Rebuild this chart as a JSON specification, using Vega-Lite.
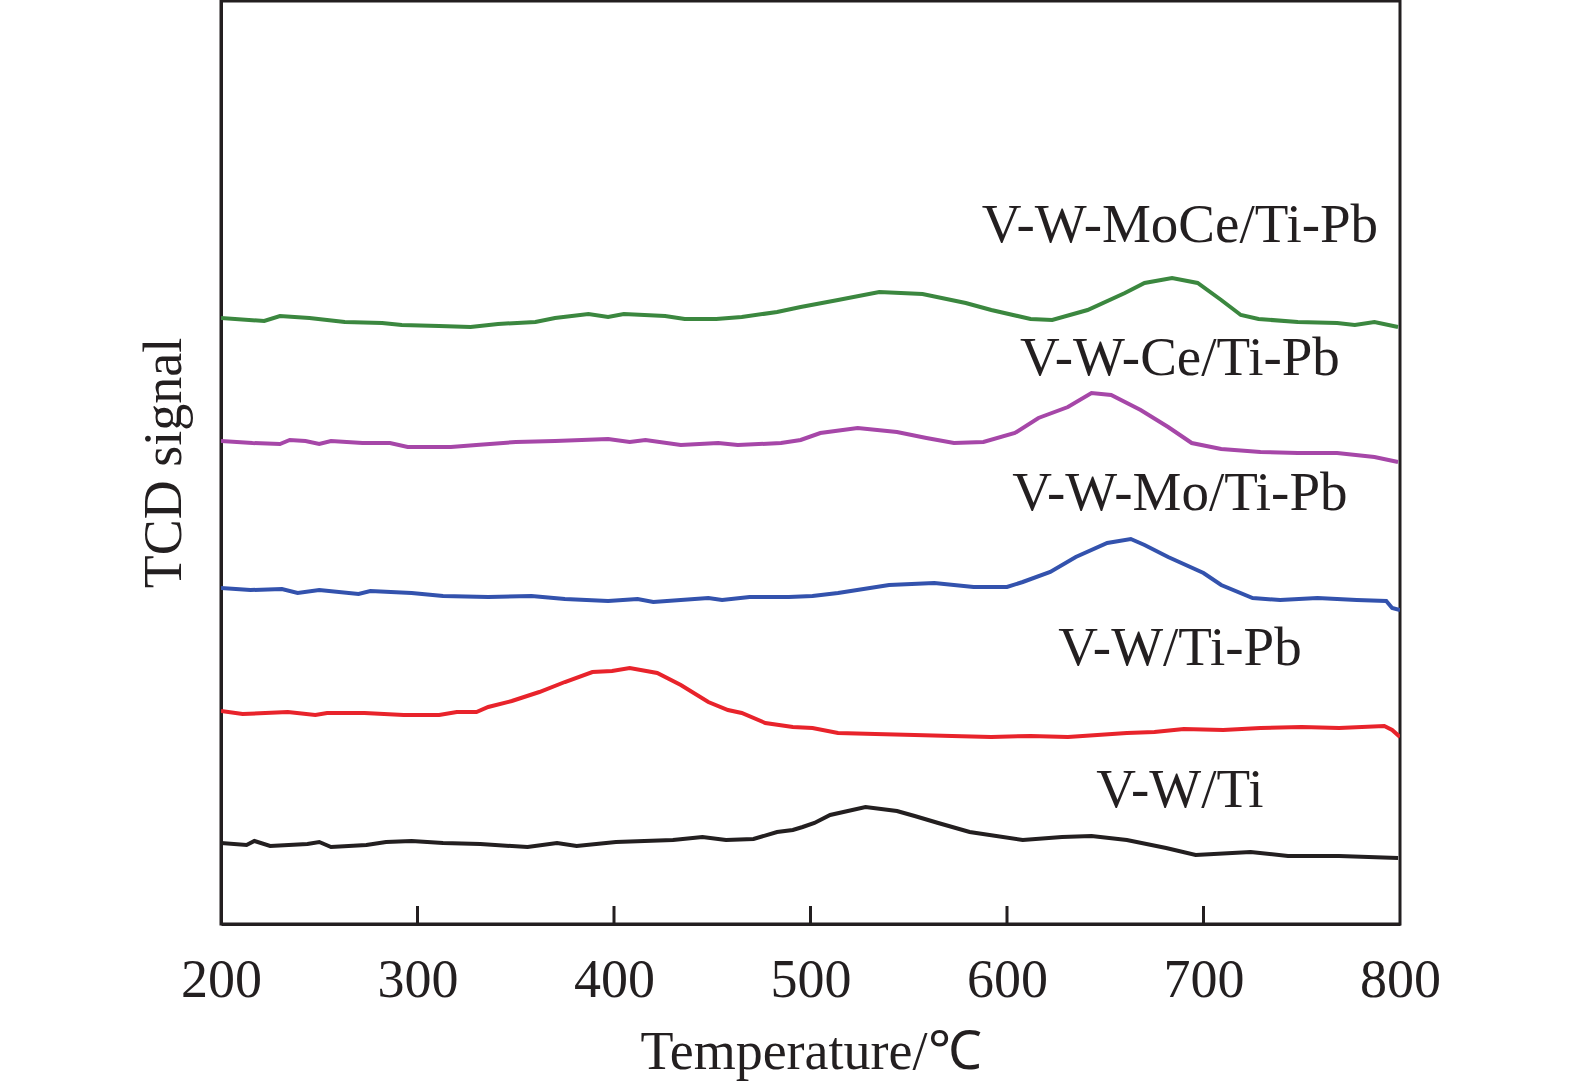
{
  "$schema": "https://vega.github.io/schema/vega-lite/v6.json",
  "width": 1179,
  "height": 923,
  "autosize": "none",
  "padding": {"left": 221, "top": 1, "right": 175, "bottom": 158},
  "config": {
    "font": "Liberation Serif",
    "view": {"stroke": "#231f20", "strokeWidth": 3},
    "axis": {"grid": false, "domainColor": "#231f20", "domainWidth": 3, "tickColor": "#231f20", "labelColor": "#231f20", "titleColor": "#231f20", "labelFont": "Liberation Serif", "titleFont": "Liberation Serif", "labelFontSize": 54, "titleFontSize": 54, "titleFontWeight": "normal"}
  },
  "datasets": {
    "curves": [
      {"s": "V-W/Ti", "t": 200, "v": 81}, {"s": "V-W/Ti", "t": 213, "v": 79}, {"s": "V-W/Ti", "t": 217, "v": 83}, {"s": "V-W/Ti", "t": 225, "v": 78},
      {"s": "V-W/Ti", "t": 244, "v": 80}, {"s": "V-W/Ti", "t": 250, "v": 82}, {"s": "V-W/Ti", "t": 256, "v": 77}, {"s": "V-W/Ti", "t": 274, "v": 79},
      {"s": "V-W/Ti", "t": 284, "v": 82}, {"s": "V-W/Ti", "t": 297, "v": 83}, {"s": "V-W/Ti", "t": 313, "v": 81}, {"s": "V-W/Ti", "t": 332, "v": 80},
      {"s": "V-W/Ti", "t": 356, "v": 77}, {"s": "V-W/Ti", "t": 371, "v": 81}, {"s": "V-W/Ti", "t": 381, "v": 78}, {"s": "V-W/Ti", "t": 401, "v": 82},
      {"s": "V-W/Ti", "t": 430, "v": 84}, {"s": "V-W/Ti", "t": 445, "v": 87}, {"s": "V-W/Ti", "t": 457, "v": 84}, {"s": "V-W/Ti", "t": 471, "v": 85},
      {"s": "V-W/Ti", "t": 483, "v": 92}, {"s": "V-W/Ti", "t": 491, "v": 94}, {"s": "V-W/Ti", "t": 496, "v": 97}, {"s": "V-W/Ti", "t": 502, "v": 101},
      {"s": "V-W/Ti", "t": 510, "v": 109}, {"s": "V-W/Ti", "t": 528, "v": 117}, {"s": "V-W/Ti", "t": 544, "v": 113}, {"s": "V-W/Ti", "t": 553, "v": 108},
      {"s": "V-W/Ti", "t": 565, "v": 101}, {"s": "V-W/Ti", "t": 581, "v": 92}, {"s": "V-W/Ti", "t": 608, "v": 84}, {"s": "V-W/Ti", "t": 628, "v": 87},
      {"s": "V-W/Ti", "t": 643, "v": 88}, {"s": "V-W/Ti", "t": 661, "v": 84}, {"s": "V-W/Ti", "t": 681, "v": 76}, {"s": "V-W/Ti", "t": 696, "v": 69},
      {"s": "V-W/Ti", "t": 724, "v": 72}, {"s": "V-W/Ti", "t": 743, "v": 68}, {"s": "V-W/Ti", "t": 769, "v": 68}, {"s": "V-W/Ti", "t": 799, "v": 66},

      {"s": "V-W/Ti-Pb", "t": 200, "v": 213}, {"s": "V-W/Ti-Pb", "t": 211, "v": 210}, {"s": "V-W/Ti-Pb", "t": 234, "v": 212}, {"s": "V-W/Ti-Pb", "t": 248, "v": 209},
      {"s": "V-W/Ti-Pb", "t": 254, "v": 211}, {"s": "V-W/Ti-Pb", "t": 273, "v": 211}, {"s": "V-W/Ti-Pb", "t": 293, "v": 209}, {"s": "V-W/Ti-Pb", "t": 311, "v": 209},
      {"s": "V-W/Ti-Pb", "t": 320, "v": 212}, {"s": "V-W/Ti-Pb", "t": 330, "v": 212}, {"s": "V-W/Ti-Pb", "t": 336, "v": 217}, {"s": "V-W/Ti-Pb", "t": 348, "v": 223},
      {"s": "V-W/Ti-Pb", "t": 362, "v": 232}, {"s": "V-W/Ti-Pb", "t": 375, "v": 242}, {"s": "V-W/Ti-Pb", "t": 389, "v": 252}, {"s": "V-W/Ti-Pb", "t": 399, "v": 253},
      {"s": "V-W/Ti-Pb", "t": 408, "v": 256}, {"s": "V-W/Ti-Pb", "t": 422, "v": 251}, {"s": "V-W/Ti-Pb", "t": 434, "v": 239}, {"s": "V-W/Ti-Pb", "t": 448, "v": 222},
      {"s": "V-W/Ti-Pb", "t": 458, "v": 214}, {"s": "V-W/Ti-Pb", "t": 465, "v": 211}, {"s": "V-W/Ti-Pb", "t": 477, "v": 201}, {"s": "V-W/Ti-Pb", "t": 491, "v": 197},
      {"s": "V-W/Ti-Pb", "t": 501, "v": 196}, {"s": "V-W/Ti-Pb", "t": 514, "v": 191}, {"s": "V-W/Ti-Pb", "t": 533, "v": 190}, {"s": "V-W/Ti-Pb", "t": 553, "v": 189},
      {"s": "V-W/Ti-Pb", "t": 572, "v": 188}, {"s": "V-W/Ti-Pb", "t": 592, "v": 187}, {"s": "V-W/Ti-Pb", "t": 612, "v": 188}, {"s": "V-W/Ti-Pb", "t": 631, "v": 187},
      {"s": "V-W/Ti-Pb", "t": 646, "v": 189}, {"s": "V-W/Ti-Pb", "t": 661, "v": 191}, {"s": "V-W/Ti-Pb", "t": 675, "v": 192}, {"s": "V-W/Ti-Pb", "t": 690, "v": 195},
      {"s": "V-W/Ti-Pb", "t": 710, "v": 194}, {"s": "V-W/Ti-Pb", "t": 729, "v": 196}, {"s": "V-W/Ti-Pb", "t": 750, "v": 197}, {"s": "V-W/Ti-Pb", "t": 769, "v": 196},
      {"s": "V-W/Ti-Pb", "t": 792, "v": 198}, {"s": "V-W/Ti-Pb", "t": 796, "v": 194}, {"s": "V-W/Ti-Pb", "t": 800, "v": 187},

      {"s": "V-W-Mo/Ti-Pb", "t": 200, "v": 336}, {"s": "V-W-Mo/Ti-Pb", "t": 215, "v": 334}, {"s": "V-W-Mo/Ti-Pb", "t": 231, "v": 335}, {"s": "V-W-Mo/Ti-Pb", "t": 239, "v": 331},
      {"s": "V-W-Mo/Ti-Pb", "t": 250, "v": 334}, {"s": "V-W-Mo/Ti-Pb", "t": 270, "v": 330}, {"s": "V-W-Mo/Ti-Pb", "t": 276, "v": 333}, {"s": "V-W-Mo/Ti-Pb", "t": 297, "v": 331},
      {"s": "V-W-Mo/Ti-Pb", "t": 313, "v": 328}, {"s": "V-W-Mo/Ti-Pb", "t": 336, "v": 327}, {"s": "V-W-Mo/Ti-Pb", "t": 358, "v": 328}, {"s": "V-W-Mo/Ti-Pb", "t": 375, "v": 325},
      {"s": "V-W-Mo/Ti-Pb", "t": 397, "v": 323}, {"s": "V-W-Mo/Ti-Pb", "t": 412, "v": 325}, {"s": "V-W-Mo/Ti-Pb", "t": 420, "v": 322}, {"s": "V-W-Mo/Ti-Pb", "t": 448, "v": 326},
      {"s": "V-W-Mo/Ti-Pb", "t": 455, "v": 324}, {"s": "V-W-Mo/Ti-Pb", "t": 469, "v": 327}, {"s": "V-W-Mo/Ti-Pb", "t": 489, "v": 327}, {"s": "V-W-Mo/Ti-Pb", "t": 501, "v": 328},
      {"s": "V-W-Mo/Ti-Pb", "t": 514, "v": 331}, {"s": "V-W-Mo/Ti-Pb", "t": 540, "v": 339}, {"s": "V-W-Mo/Ti-Pb", "t": 563, "v": 341}, {"s": "V-W-Mo/Ti-Pb", "t": 583, "v": 337},
      {"s": "V-W-Mo/Ti-Pb", "t": 600, "v": 337}, {"s": "V-W-Mo/Ti-Pb", "t": 608, "v": 342}, {"s": "V-W-Mo/Ti-Pb", "t": 622, "v": 352}, {"s": "V-W-Mo/Ti-Pb", "t": 635, "v": 367},
      {"s": "V-W-Mo/Ti-Pb", "t": 651, "v": 381}, {"s": "V-W-Mo/Ti-Pb", "t": 663, "v": 385}, {"s": "V-W-Mo/Ti-Pb", "t": 670, "v": 379}, {"s": "V-W-Mo/Ti-Pb", "t": 682, "v": 367},
      {"s": "V-W-Mo/Ti-Pb", "t": 700, "v": 351}, {"s": "V-W-Mo/Ti-Pb", "t": 709, "v": 339}, {"s": "V-W-Mo/Ti-Pb", "t": 725, "v": 326}, {"s": "V-W-Mo/Ti-Pb", "t": 739, "v": 324},
      {"s": "V-W-Mo/Ti-Pb", "t": 758, "v": 326}, {"s": "V-W-Mo/Ti-Pb", "t": 778, "v": 324}, {"s": "V-W-Mo/Ti-Pb", "t": 793, "v": 323}, {"s": "V-W-Mo/Ti-Pb", "t": 796, "v": 316},
      {"s": "V-W-Mo/Ti-Pb", "t": 800, "v": 314},

      {"s": "V-W-Ce/Ti-Pb", "t": 200, "v": 483}, {"s": "V-W-Ce/Ti-Pb", "t": 216, "v": 481}, {"s": "V-W-Ce/Ti-Pb", "t": 230, "v": 480}, {"s": "V-W-Ce/Ti-Pb", "t": 235, "v": 484},
      {"s": "V-W-Ce/Ti-Pb", "t": 243, "v": 483}, {"s": "V-W-Ce/Ti-Pb", "t": 250, "v": 480}, {"s": "V-W-Ce/Ti-Pb", "t": 256, "v": 483}, {"s": "V-W-Ce/Ti-Pb", "t": 272, "v": 481},
      {"s": "V-W-Ce/Ti-Pb", "t": 286, "v": 481}, {"s": "V-W-Ce/Ti-Pb", "t": 295, "v": 477}, {"s": "V-W-Ce/Ti-Pb", "t": 317, "v": 477}, {"s": "V-W-Ce/Ti-Pb", "t": 330, "v": 479},
      {"s": "V-W-Ce/Ti-Pb", "t": 350, "v": 482}, {"s": "V-W-Ce/Ti-Pb", "t": 370, "v": 483}, {"s": "V-W-Ce/Ti-Pb", "t": 397, "v": 485}, {"s": "V-W-Ce/Ti-Pb", "t": 408, "v": 482},
      {"s": "V-W-Ce/Ti-Pb", "t": 416, "v": 484}, {"s": "V-W-Ce/Ti-Pb", "t": 434, "v": 479}, {"s": "V-W-Ce/Ti-Pb", "t": 453, "v": 481}, {"s": "V-W-Ce/Ti-Pb", "t": 463, "v": 479},
      {"s": "V-W-Ce/Ti-Pb", "t": 485, "v": 481}, {"s": "V-W-Ce/Ti-Pb", "t": 495, "v": 484}, {"s": "V-W-Ce/Ti-Pb", "t": 505, "v": 491}, {"s": "V-W-Ce/Ti-Pb", "t": 524, "v": 496},
      {"s": "V-W-Ce/Ti-Pb", "t": 544, "v": 492}, {"s": "V-W-Ce/Ti-Pb", "t": 559, "v": 486}, {"s": "V-W-Ce/Ti-Pb", "t": 573, "v": 481}, {"s": "V-W-Ce/Ti-Pb", "t": 588, "v": 482},
      {"s": "V-W-Ce/Ti-Pb", "t": 604, "v": 491}, {"s": "V-W-Ce/Ti-Pb", "t": 616, "v": 506}, {"s": "V-W-Ce/Ti-Pb", "t": 631, "v": 517}, {"s": "V-W-Ce/Ti-Pb", "t": 643, "v": 531},
      {"s": "V-W-Ce/Ti-Pb", "t": 653, "v": 529}, {"s": "V-W-Ce/Ti-Pb", "t": 668, "v": 514}, {"s": "V-W-Ce/Ti-Pb", "t": 682, "v": 497}, {"s": "V-W-Ce/Ti-Pb", "t": 694, "v": 481},
      {"s": "V-W-Ce/Ti-Pb", "t": 709, "v": 475}, {"s": "V-W-Ce/Ti-Pb", "t": 729, "v": 472}, {"s": "V-W-Ce/Ti-Pb", "t": 748, "v": 471}, {"s": "V-W-Ce/Ti-Pb", "t": 768, "v": 471},
      {"s": "V-W-Ce/Ti-Pb", "t": 787, "v": 467}, {"s": "V-W-Ce/Ti-Pb", "t": 799, "v": 462},

      {"s": "V-W-MoCe/Ti-Pb", "t": 200, "v": 606}, {"s": "V-W-MoCe/Ti-Pb", "t": 222, "v": 603}, {"s": "V-W-MoCe/Ti-Pb", "t": 230, "v": 608}, {"s": "V-W-MoCe/Ti-Pb", "t": 245, "v": 606},
      {"s": "V-W-MoCe/Ti-Pb", "t": 263, "v": 602}, {"s": "V-W-MoCe/Ti-Pb", "t": 282, "v": 601}, {"s": "V-W-MoCe/Ti-Pb", "t": 292, "v": 599}, {"s": "V-W-MoCe/Ti-Pb", "t": 311, "v": 598},
      {"s": "V-W-MoCe/Ti-Pb", "t": 327, "v": 597}, {"s": "V-W-MoCe/Ti-Pb", "t": 341, "v": 600}, {"s": "V-W-MoCe/Ti-Pb", "t": 360, "v": 602}, {"s": "V-W-MoCe/Ti-Pb", "t": 370, "v": 606},
      {"s": "V-W-MoCe/Ti-Pb", "t": 387, "v": 610}, {"s": "V-W-MoCe/Ti-Pb", "t": 397, "v": 607}, {"s": "V-W-MoCe/Ti-Pb", "t": 405, "v": 610}, {"s": "V-W-MoCe/Ti-Pb", "t": 426, "v": 608},
      {"s": "V-W-MoCe/Ti-Pb", "t": 436, "v": 605}, {"s": "V-W-MoCe/Ti-Pb", "t": 452, "v": 605}, {"s": "V-W-MoCe/Ti-Pb", "t": 465, "v": 607}, {"s": "V-W-MoCe/Ti-Pb", "t": 483, "v": 612},
      {"s": "V-W-MoCe/Ti-Pb", "t": 495, "v": 617}, {"s": "V-W-MoCe/Ti-Pb", "t": 514, "v": 624}, {"s": "V-W-MoCe/Ti-Pb", "t": 535, "v": 632}, {"s": "V-W-MoCe/Ti-Pb", "t": 557, "v": 630},
      {"s": "V-W-MoCe/Ti-Pb", "t": 579, "v": 621}, {"s": "V-W-MoCe/Ti-Pb", "t": 592, "v": 614}, {"s": "V-W-MoCe/Ti-Pb", "t": 612, "v": 605}, {"s": "V-W-MoCe/Ti-Pb", "t": 623, "v": 604},
      {"s": "V-W-MoCe/Ti-Pb", "t": 641, "v": 614}, {"s": "V-W-MoCe/Ti-Pb", "t": 660, "v": 631}, {"s": "V-W-MoCe/Ti-Pb", "t": 670, "v": 641}, {"s": "V-W-MoCe/Ti-Pb", "t": 684, "v": 646},
      {"s": "V-W-MoCe/Ti-Pb", "t": 697, "v": 641}, {"s": "V-W-MoCe/Ti-Pb", "t": 709, "v": 624}, {"s": "V-W-MoCe/Ti-Pb", "t": 719, "v": 609}, {"s": "V-W-MoCe/Ti-Pb", "t": 728, "v": 605},
      {"s": "V-W-MoCe/Ti-Pb", "t": 748, "v": 602}, {"s": "V-W-MoCe/Ti-Pb", "t": 768, "v": 601}, {"s": "V-W-MoCe/Ti-Pb", "t": 777, "v": 599}, {"s": "V-W-MoCe/Ti-Pb", "t": 787, "v": 602},
      {"s": "V-W-MoCe/Ti-Pb", "t": 799, "v": 597}
    ],
    "labels": [
      {"label": "V-W-MoCe/Ti-Pb", "t": 688, "v": 699},
      {"label": "V-W-Ce/Ti-Pb", "t": 688, "v": 566},
      {"label": "V-W-Mo/Ti-Pb", "t": 688, "v": 431},
      {"label": "V-W/Ti-Pb", "t": 688, "v": 276},
      {"label": "V-W/Ti", "t": 688, "v": 134}
    ],
    "ticks": [
      {"t": 300, "lo": 0, "hi": 18}, {"t": 400, "lo": 0, "hi": 18}, {"t": 500, "lo": 0, "hi": 18},
      {"t": 600, "lo": 0, "hi": 18}, {"t": 700, "lo": 0, "hi": 18}
    ]
  },
  "layer": [
    {
      "data": {"name": "ticks"},
      "mark": {"type": "rule", "strokeWidth": 3, "color": "#231f20"},
      "encoding": {
        "x": {"field": "t", "type": "quantitative"},
        "y": {"field": "lo", "type": "quantitative"},
        "y2": {"field": "hi"}
      }
    },
    {
      "data": {"name": "curves"},
      "mark": {"type": "line", "strokeWidth": 4, "clip": true},
      "encoding": {
        "x": {
          "field": "t", "type": "quantitative",
          "scale": {"domain": [200, 800], "nice": false, "zero": false},
          "axis": {"title": "Temperature/℃", "values": [200, 300, 400, 500, 600, 700, 800], "ticks": false, "labelPadding": 29, "titlePadding": 18, "labelFlush": false}
        },
        "y": {
          "field": "v", "type": "quantitative",
          "scale": {"domain": [0, 923], "nice": false, "zero": false},
          "axis": {"title": "TCD signal", "labels": false, "ticks": false, "titlePadding": 30}
        },
        "color": {
          "field": "s", "type": "nominal", "legend": null,
          "scale": {
            "domain": ["V-W/Ti", "V-W/Ti-Pb", "V-W-Mo/Ti-Pb", "V-W-Ce/Ti-Pb", "V-W-MoCe/Ti-Pb"],
            "range": ["#231f20", "#e8232b", "#3352ad", "#a647a8", "#3b873f"]
          }
        }
      }
    },
    {
      "data": {"name": "labels"},
      "mark": {"type": "text", "font": "Liberation Serif", "fontSize": 55, "align": "center", "baseline": "middle", "color": "#231f20"},
      "encoding": {
        "x": {"field": "t", "type": "quantitative"},
        "y": {"field": "v", "type": "quantitative"},
        "text": {"field": "label"}
      }
    }
  ]
}
